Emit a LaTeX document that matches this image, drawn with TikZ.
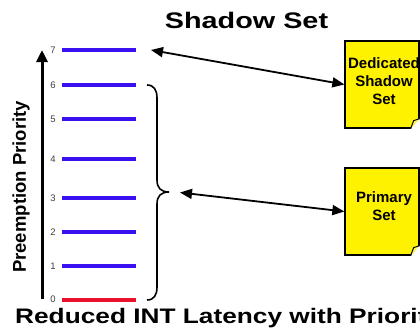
\documentclass[tikz,border=0pt]{standalone}
\usepackage{fontspec}
\setmainfont{Liberation Sans}
\usetikzlibrary{arrows.meta,positioning}
\definecolor{lvlblue}{HTML}{3A10F0}
\definecolor{lvlred}{HTML}{E8102A}

\begin{document}
\begin{tikzpicture}[x=1pt, y=-1pt, >={Triangle[length=12pt,width=10pt]},
  lvl/.style={line width=4pt, lvlblue},
  lbl/.style={font=\fontsize{9.5}{9.5}\selectfont, text=black!75, inner sep=0pt},
  setbox/.style={draw, line width=1.3pt, fill=yellow, minimum width=74pt, minimum height=87pt},
  settext/.style={align=center, inner sep=0pt, font=\fontsize{15}{18}\selectfont\bfseries},
  link/.style={<->, line width=1.8pt}]
\path[use as bounding box] (0,0) rectangle (420,333);
\clip (0,0) rectangle (420,333);
% titles
\node[anchor=base] (title) at (246.5,28.3) {\scalebox{1.28}[1]{\fontsize{22.5}{22.5}\selectfont\bfseries Shadow Set}};
\node[anchor=base west, inner sep=0pt] (caption) at (15,323) {\scalebox{1.25}[1]{\fontsize{21}{21}\selectfont\bfseries Reduced INT Latency with Priority}};
% priority axis
\coordinate (axbot) at (42,299);
\coordinate (axtop) at (42,50);
\draw[line width=3pt, -{Triangle[length=12pt,width=11pt]}] (axbot) -- (axtop);
\node[rotate=90, font=\fontsize{18.5}{18.5}\selectfont\bfseries] (axlabel) at (21,187) {Preemption Priority};
% levels
\foreach \n/\y in {7/50,6/85,5/119,4/159,3/198,2/232,1/266} {
  \node[lbl] (n\n) at (53,\y) {\n};
  \draw[lvl] (62,\y) -- (136,\y);
}
\node[lbl] (n0) at (53,299) {0};
\draw[lvl, lvlred] (62,300) -- (136,300);
% brace over levels 0-6
\draw[line width=1.6pt] (147,85) .. controls (154,85) and (157,90) .. (157,98) -- (157,180)
  .. controls (157,188) and (161,192) .. (169,192) .. controls (161,192) and (157,196) .. (157,204)
  -- (157,287) .. controls (157,295) and (154,300) .. (147,300);
% register sets
\node[setbox] (ded) at (382,84.5) {};
\node[settext] (dedtxt) at ([xshift=2pt,yshift=3pt]ded.center) {Dedicated\\Shadow\\Set};
\node[setbox] (pri) at (382,211.5) {};
\node[settext] (pritxt) at ([xshift=2pt,yshift=5pt]pri.center) {Primary\\Set};
\foreach \b in {ded,pri} {
  \fill[white] ([xshift=-9pt]\b.south east) -- ([xshift=1pt,yshift=-1pt]\b.south east) -- ([yshift=10pt]\b.south east) -- cycle;
  \draw[line width=1pt, fill=yellow!70!white, line join=round] ([xshift=-9pt]\b.south east) -- ([xshift=-6pt,yshift=8pt]\b.south east) -- ([yshift=10pt]\b.south east);
}
% links
\coordinate (top7) at (151,50);
\coordinate (brtip) at (180,192.5);
\draw[link] (top7) -- (ded.west);
\draw[link] (brtip) -- (pri.west);
\end{tikzpicture}
\end{document}
